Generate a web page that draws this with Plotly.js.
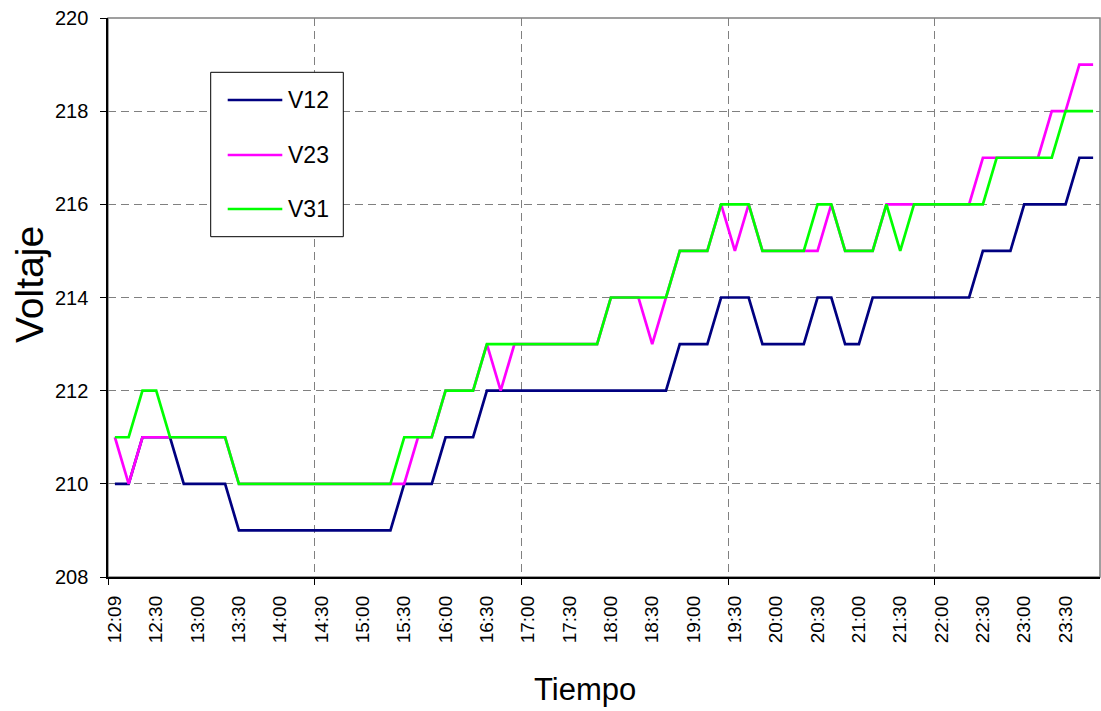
<!DOCTYPE html>
<html>
<head>
<meta charset="utf-8">
<script src="https://cdn.plot.ly/plotly-3.0.1.min.js"></script>
<style>html,body{margin:0;padding:0;background:#fff;}#chart{width:1101px;height:711px;}</style>
</head>
<body>
<div id="chart"></div>
<script>
// ---- data ----
const times = ["12:09","12:10","12:20","12:30","12:40","12:50","13:00","13:10","13:20","13:30","13:40","13:50",
"14:00","14:10","14:20","14:30","14:40","14:50","15:00","15:10","15:20","15:30","15:40","15:50",
"16:00","16:10","16:20","16:30","16:40","16:50","17:00","17:10","17:20","17:30","17:40","17:50",
"18:00","18:10","18:20","18:30","18:40","18:50","19:00","19:10","19:20","19:30","19:40","19:50",
"20:00","20:10","20:20","20:30","20:40","20:50","21:00","21:10","21:20","21:30","21:40","21:50",
"22:00","22:10","22:20","22:30","22:40","22:50","23:00","23:10","23:20","23:30","23:40","23:50"];

const V12 = [210,210,211,211,211,210,210,210,210,209,209,209,
209,209,209,209,209,209,209,209,209,210,210,210,
211,211,211,212,212,212,212,212,212,212,212,212,
212,212,212,212,212,213,213,213,214,214,214,213,
213,213,213,214,214,213,213,214,214,214,214,214,
214,214,214,215,215,215,216,216,216,216,217,217];

const V23 = [211,210,211,211,211,211,211,211,211,210,210,210,
210,210,210,210,210,210,210,210,210,210,211,211,
212,212,212,213,212,213,213,213,213,213,213,213,
214,214,214,213,214,215,215,215,216,215,216,215,
215,215,215,215,216,215,215,215,216,216,216,216,
216,216,216,217,217,217,217,217,218,218,219,219];

const V31 = [211,211,212,212,211,211,211,211,211,210,210,210,
210,210,210,210,210,210,210,210,210,211,211,211,
212,212,212,213,213,213,213,213,213,213,213,213,
214,214,214,214,214,215,215,215,216,216,216,215,
215,215,215,216,216,215,215,215,216,215,216,216,
216,216,216,216,217,217,217,217,217,218,218,218];

const seriesNames = ["V12","V23","V31"];
const seriesColors = ["#000080","#FF00FF","#00FF00"];
const yTicks = [208,210,212,214,216,218,220];
const xTitle = "Tiempo";
const yTitle = "Voltaje";
const labelStep = 3;     // a time label every 3rd category
const gridStep = 15;     // tick mark / gridline every 15 categories
// ---------------

const FONT = "Liberation Sans, Arial, sans-serif";
const idx = times.map((_, i) => i);
const labelVals = idx.filter(i => i % labelStep === 0);
const labelText = labelVals.map(i => times[i]);
const gridVals = idx.filter(i => i % gridStep === 0).map(i => i - 0.5);

const allSeries = [V12, V23, V31];
const traces = allSeries.map((s, k) => ({
  x: idx, y: s, type: "scatter", mode: "lines", name: seriesNames[k],
  line: {color: seriesColors[k], width: 2.7}, showlegend: false, xaxis: "x", yaxis: "y"
}));

// plot-area pixel geometry
const L = 108, T = 18, W = 992, H = 559;
const px = x => (x - L) / W;
const py = y => (T + H - y) / H;

// manual legend (box, line samples, text)
const shapes = [
  {type: "rect", xref: "paper", yref: "paper", x0: 0, x1: 1, y0: 0, y1: 1,
   line: {color: "#808080", width: 1.5}, layer: "below"},
  {type: "rect", xref: "paper", yref: "paper", x0: px(210.7), x1: px(343.3), y0: py(236.7), y1: py(72.3),
   line: {color: "#000", width: 1}, fillcolor: "#fff", layer: "above"}
];
const annotations = [];
const rowY = [100, 155, 209];
seriesNames.forEach((n, k) => {
  shapes.push({type: "line", xref: "paper", yref: "paper", x0: px(227.7), x1: px(282.3),
    y0: py(rowY[k]), y1: py(rowY[k]), line: {color: seriesColors[k], width: 2.7}, layer: "above"});
  annotations.push({xref: "paper", yref: "paper", x: px(286), y: py(rowY[k]), text: n,
    showarrow: false, xanchor: "left", yanchor: "middle", font: {family: FONT, size: 23, color: "#000"}});
});

// axis titles
annotations.push({xref: "paper", yref: "paper", x: px(585), y: py(690), text: xTitle,
  showarrow: false, xanchor: "center", yanchor: "middle", font: {family: FONT, size: 31, color: "#000"}});
annotations.push({xref: "paper", yref: "paper", x: px(29), y: py(285), text: yTitle, textangle: -90,
  showarrow: false, xanchor: "center", yanchor: "middle", font: {family: FONT, size: 39, color: "#000"}});

const layout = {
  width: 1101, height: 711,
  margin: {l: L, r: 1101 - L - W, t: T, b: 711 - T - H},
  paper_bgcolor: "#fff", plot_bgcolor: "#fff",
  showlegend: false,
  font: {family: FONT, color: "#000"},
  xaxis: {
    range: [-0.5, times.length - 0.5], tickmode: "array", tickvals: gridVals,
    showticklabels: false, ticks: "outside", ticklen: 6, tickcolor: "#000", tickwidth: 1,
    showgrid: true, gridcolor: "#808080", gridwidth: 1, griddash: "8px,5px",
    showline: true, linecolor: "#000", linewidth: 1.7, zeroline: false, fixedrange: true
  },
  xaxis2: {
    overlaying: "x", anchor: "y", side: "bottom",
    range: [-0.5, times.length - 0.5], tickmode: "array", tickvals: labelVals, ticktext: labelText,
    tickangle: -90, ticks: "", showgrid: false, showline: false, zeroline: false,
    tickfont: {family: FONT, size: 19, color: "#000"}, ticklabelstandoff: 14
  },
  yaxis: {
    range: [208, 220], tickmode: "array", tickvals: yTicks,
    ticks: "outside", ticklen: 6, tickcolor: "#000",
    showgrid: true, gridcolor: "#808080", gridwidth: 1, griddash: "8px,5px",
    showline: true, linecolor: "#000", linewidth: 1.7, zeroline: false,
    tickfont: {family: FONT, size: 20, color: "#000"}, ticklabelstandoff: 8
  },
  shapes: shapes,
  annotations: annotations
};

// invisible trace so that the label axis (x2) is drawn
traces.push({x: [0], y: [null], xaxis: "x2", yaxis: "y", type: "scatter", mode: "lines",
  showlegend: false, hoverinfo: "skip"});

Plotly.newPlot("chart", traces, layout, {displayModeBar: false, staticPlot: true});
</script>
</body>
</html>
